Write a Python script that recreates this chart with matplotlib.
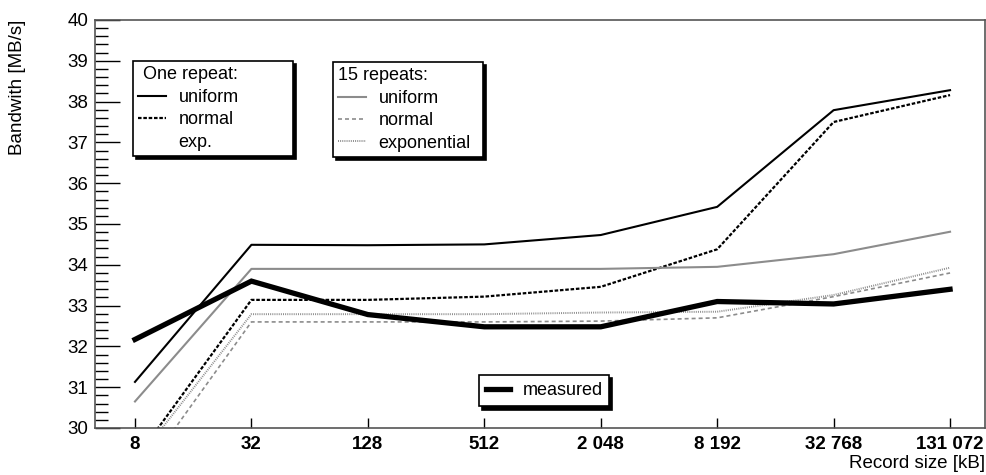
import matplotlib.pyplot as plt
from matplotlib.lines import Line2D
from matplotlib.ticker import MultipleLocator

plt.rcParams['font.family'] = ['Liberation Sans', 'DejaVu Sans']

# record sizes in kB (log2 axis, one tick every factor of 4)
record_kb = [8, 32, 128, 512, 2048, 8192, 32768, 131072]
tick_labels = ['8', '32', '128', '512', '2 048', '8 192', '32 768', '131 072']

# one repeat
one_uniform = [31.13, 34.49, 34.48, 34.50, 34.73, 35.42, 37.79, 38.28]
one_normal = [29.22, 33.14, 33.14, 33.22, 33.46, 34.38, 37.50, 38.16]

# 15 repeats
rep_uniform = [30.65, 33.90, 33.90, 33.90, 33.90, 33.95, 34.26, 34.81]
rep_normal = [28.63, 32.60, 32.60, 32.60, 32.62, 32.70, 33.22, 33.80]
rep_expon = [29.15, 32.79, 32.79, 32.79, 32.83, 32.85, 33.26, 33.93]

measured = [32.17, 33.60, 32.78, 32.48, 32.48, 33.10, 33.04, 33.40]

gray = '#8c8c8c'

fig = plt.figure(figsize=(9.86, 4.75), dpi=100)
ax = fig.add_axes([95 / 986, 1 - 428 / 475, 890 / 986, 408 / 475])

l_one_uni, = ax.plot(record_kb, one_uniform, color='black', lw=1.5)
l_one_norm, = ax.plot(record_kb, one_normal, color='black', lw=1.6,
                      linestyle=(0, (1.6, 0.8)))
l_rep_uni, = ax.plot(record_kb, rep_uniform, color=gray, lw=1.5)
l_rep_norm, = ax.plot(record_kb, rep_normal, color=gray, lw=1.2,
                      linestyle=(0, (2.4, 1.8)))
l_rep_exp, = ax.plot(record_kb, rep_expon, color=gray, lw=1.4,
                     linestyle=(0, (0.5, 0.6)))
l_meas, = ax.plot(record_kb, measured, color='black', lw=3.8,
                  solid_joinstyle='miter')

ax.set_xscale('log', base=2)
ax.set_xlim(4.97, 198700)
ax.set_ylim(30, 40)
ax.set_xticks(record_kb)
ax.set_xticklabels(tick_labels, fontweight='bold', fontsize=13.5)
ax.minorticks_off()
ax.yaxis.set_major_locator(MultipleLocator(1))
ax.yaxis.set_minor_locator(MultipleLocator(0.2))
ax.tick_params(axis='y', which='major', direction='in', length=18, width=1,
               labelsize=13.5, pad=5)
ax.tick_params(axis='y', which='minor', direction='in', length=9, width=1)
ax.tick_params(axis='x', direction='in', length=7, width=1, pad=6)
for s in ax.spines.values():
    s.set_color('#555555')
    s.set_linewidth(1.2)

ax.set_ylabel('Bandwith [MB/s]', fontsize=13.5, loc='top', labelpad=30)
ax.set_xlabel('Record size [kB]', fontsize=13.5, loc='right', labelpad=1)

# boxed legends with a hard drop shadow
shadow = {'color': 'black', 'alpha': 1, 'ox': 2.2, 'oy': -2.2}
leg_kw = dict(loc='upper left', mode='expand', fontsize=13, frameon=True,
              fancybox=False, edgecolor='black', framealpha=1,
              shadow=shadow, handlelength=1.5, handletextpad=0.72,
              labelspacing=0.3, borderpad=0.3, borderaxespad=0,
              title_fontsize=13, alignment='left')

blank = Line2D([], [], linestyle='none')
leg1 = ax.legend([l_one_uni, l_one_norm, blank], ['uniform', 'normal', 'exp.'],
                 title=' One repeat:',
                 bbox_to_anchor=(133 / 986, 1 - 61 / 475, 160 / 986, 0),
                 bbox_transform=fig.transFigure, **leg_kw)
leg1.get_frame().set_linewidth(1.2)
ax.add_artist(leg1)

leg2 = ax.legend([l_rep_uni, l_rep_norm, l_rep_exp],
                 ['uniform', 'normal', 'exponential'],
                 title='15 repeats:',
                 bbox_to_anchor=(333 / 986, 1 - 62 / 475, 150 / 986, 0),
                 bbox_transform=fig.transFigure, **leg_kw)
leg2.get_frame().set_linewidth(1.2)
ax.add_artist(leg2)

leg3 = ax.legend([l_meas], ['measured'],
                 bbox_to_anchor=(479 / 986, 1 - 375 / 475, 130 / 986, 0),
                 bbox_transform=fig.transFigure,
                 **{**leg_kw, 'handlelength': 1.3, 'borderpad': 0.4})
leg3.get_frame().set_linewidth(1.2)

fig.savefig('out.png', dpi=100)
